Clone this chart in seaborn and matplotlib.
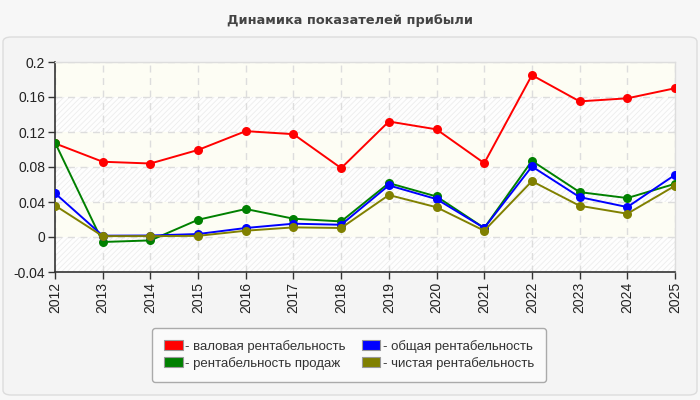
import matplotlib
matplotlib.use("Agg")
import matplotlib.pyplot as plt
import seaborn as sns
import pandas as pd
from matplotlib.patches import FancyBboxPatch, Patch

years = [2012, 2013, 2014, 2015, 2016, 2017, 2018, 2019, 2020, 2021, 2022, 2023, 2024, 2025]
gross = [0.107, 0.086, 0.084, 0.0995, 0.121, 0.1175, 0.0787, 0.132, 0.123, 0.0844, 0.185, 0.155, 0.1585, 0.170]
sales = [0.108, -0.0057, -0.0039, 0.0197, 0.032, 0.0209, 0.0178, 0.0616, 0.0463, 0.0103, 0.087, 0.0513, 0.0445, 0.0608]
total = [0.050, 0.0015, 0.0017, 0.0034, 0.0103, 0.0152, 0.014, 0.059, 0.0433, 0.0103, 0.0806, 0.0456, 0.0342, 0.071]
net = [0.036, 0.001, 0.001, 0.0013, 0.0072, 0.011, 0.0103, 0.048, 0.034, 0.0072, 0.0638, 0.0357, 0.0266, 0.0585]

names = ["валовая рентабельность", "рентабельность продаж", "общая рентабельность", "чистая рентабельность"]
colors = ["#ff0000", "#008000", "#0000ff", "#808000"]
yticks = [-0.04, 0, 0.04, 0.08, 0.12, 0.16, 0.2]
ytick_labels = ["-0.04", "0", "0.04", "0.08", "0.12", "0.16", "0.2"]
title = "Динамика показателей прибыли"

rows = []
for name, vals in zip(names, [gross, sales, total, net]):
    for y, v in zip(years, vals):
        rows.append({"year": y, "value": v, "series": name})
df = pd.DataFrame(rows)

sns.set_theme(style="white")
plt.rcParams["font.family"] = ["Liberation Sans", "DejaVu Sans"]
plt.rcParams["hatch.linewidth"] = 0.6

fig = plt.figure(figsize=(7, 4), dpi=100, facecolor="#f7f7f7")
panel = FancyBboxPatch((3 / 700, 5 / 400), 694 / 700, 358 / 400,
                       boxstyle="round,pad=0,rounding_size=0.012",
                       transform=fig.transFigure, facecolor="#f4f4f4",
                       edgecolor="#dcdcdc", linewidth=1, zorder=-10)
fig.patches.append(panel)

fig.text(0.5, 0.948, title, ha="center", va="center", fontsize=9.3,
         fontweight="bold", color="#444444", family=["DejaVu Sans"])

ax = fig.add_axes([55 / 700, 128 / 400, 620 / 700, 210 / 400])
ax.set_zorder(1)
ax.set_facecolor("#fdfdf7")

# alternating background bands
for i in range(len(yticks) - 1):
    lo, hi = yticks[i], yticks[i + 1]
    if i % 2 == 0:
        ax.axhspan(lo, hi, facecolor="#fefefe", edgecolor="#ededed",
                   hatch="//////", linewidth=0, zorder=0)
    else:
        ax.axhspan(lo, hi, facecolor="#fdfdf4", linewidth=0, zorder=0)

sns.lineplot(data=df, x="year", y="value", hue="series", hue_order=names,
             palette=colors, marker="o", markersize=6.5, markeredgewidth=0,
             linewidth=1.4, ax=ax, legend=False, zorder=3)

ax.set_xlim(2012, 2025)
ax.set_ylim(-0.04, 0.2)
ax.set_xticks(years)
ax.set_xticklabels([str(y) for y in years], rotation=90, fontsize=10, color="#222222")
ax.set_yticks(yticks)
ax.set_yticklabels(ytick_labels, fontsize=10, color="#222222")
ax.set_xlabel("")
ax.set_ylabel("")
ax.grid(True, color="#dddddd", linestyle=(0, (5, 4)), linewidth=1)
ax.set_axisbelow(True)
ax.tick_params(axis="both", direction="out", length=5, width=1, color="#333333",
               bottom=True, left=True, pad=2)
for s in ["left", "bottom"]:
    ax.spines[s].set_color("#333333")
    ax.spines[s].set_linewidth(1.2)
for s in ["top", "right"]:
    ax.spines[s].set_color("#dddddd")
    ax.spines[s].set_linewidth(1)

handles = [Patch(facecolor=c, edgecolor="#999999", linewidth=0.8, label="- " + n)
           for c, n in zip(colors, names)]
leg = fig.legend(handles, ["- " + n for n in names],
                 ncol=2, loc="center", bbox_to_anchor=(349 / 700, 45 / 400),
                 fontsize=9.5, frameon=True, fancybox=True, framealpha=1,
                 facecolor="#fafafa", edgecolor="#aaaaaa",
                 handlelength=1.4, handleheight=0.8, handletextpad=0.2,
                 columnspacing=1.2, labelspacing=0.3, borderpad=0.9,
                 borderaxespad=0)
for t in leg.get_texts():
    t.set_color("#333333")

fig.savefig("out.png", dpi=100, facecolor=fig.get_facecolor())
